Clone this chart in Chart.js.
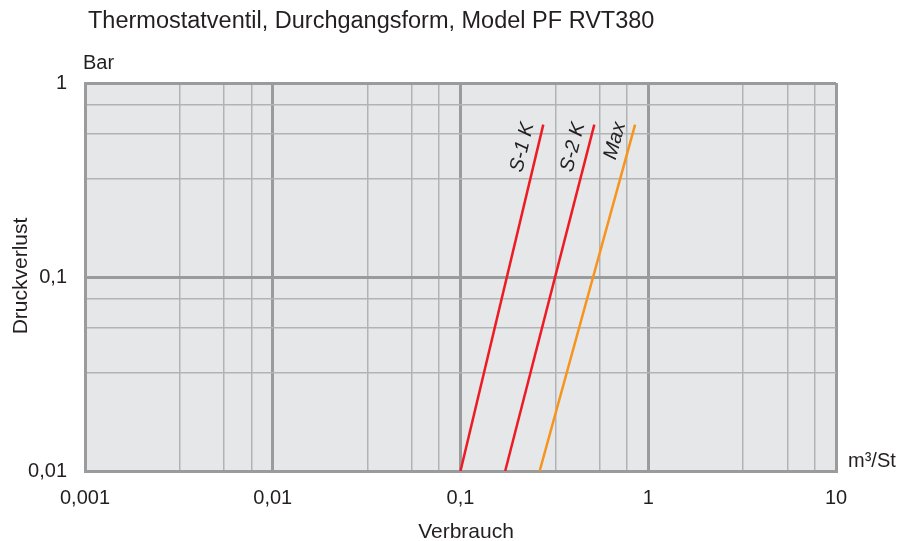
<!DOCTYPE html>
<html>
<head>
<meta charset="utf-8">
<script src="https://cdn.jsdelivr.net/npm/chart.js@4/dist/chart.umd.min.js"></script>
<style>
  body { margin: 0; background: #fff; }
  #wrap { width: 901px; height: 541px; }
</style>
</head>
<body>
<div id="wrap"><canvas id="chart"></canvas></div>
<script>
// Curve data (flow in m³/St, pressure drop in bar)
var seriesNames = ['S-1 K', 'S-2 K', 'Max'];
var seriesColors = ['#ed1c24', '#ed1c24', '#f7941d'];
var pressure = [0.01, 0.61];
var flowS1 = [0.1, 0.276];
var flowS2 = [0.173, 0.516];
var flowMax = [0.264, 0.851];

// Axis ticks
var xMajor = [0.001, 0.01, 0.1, 1, 10];
var xTickLabels = ['0,001', '0,01', '0,1', '1', '10'];
var yMajor = [0.01, 0.1, 1];
var yTickLabels = ['0,01', '0,1', '1'];
var minorSteps = [3.2, 5.5, 7.7];   // minor grid lines inside each decade

var titleText = 'Thermostatventil, Durchgangsform, Model PF RVT380';
var xTitle = 'Verbrauch';
var yTitle = 'Druckverlust';
var xUnit = 'm³/St';
var yUnit = 'Bar';

var FONT = '"Liberation Sans", Arial, sans-serif';

function buildTicks(majors) {
  var vals = [];
  majors.forEach(function (m, i) {
    vals.push(m);
    if (i < majors.length - 1) {
      minorSteps.forEach(function (s) { vals.push(m * s); });
    }
  });
  return vals.map(function (v) { return { value: v }; });
}

function isMajor(v, majors) {
  return majors.some(function (m) { return Math.abs(m - v) / m < 1e-6; });
}

function makePoints(flows) {
  return flows.map(function (f, i) { return { x: f, y: pressure[i] }; });
}

var allFlows = [flowS1, flowS2, flowMax];

// Fill plot background and draw free text
var decorPlugin = {
  id: 'decor',
  beforeDraw: function (chart) {
    var a = chart.chartArea, ctx = chart.ctx;
    ctx.save();
    ctx.fillStyle = '#e6e7e8';
    ctx.fillRect(a.left, a.top, a.right - a.left, a.bottom - a.top);
    ctx.restore();
  },
  afterDraw: function (chart) {
    var ctx = chart.ctx;
    ctx.save();
    ctx.fillStyle = '#231f20';
    ctx.textBaseline = 'alphabetic';

    ctx.font = '23.5px ' + FONT;
    ctx.textAlign = 'left';
    ctx.fillText(titleText, 88, 28);

    ctx.font = '20px ' + FONT;
    ctx.fillText(yUnit, 83, 69);
    ctx.fillText(xUnit, 848, 467);

    ctx.font = '21px ' + FONT;
    ctx.textAlign = 'center';
    ctx.fillText(xTitle, 466, 538);

    ctx.save();
    ctx.translate(26.5, 276);
    ctx.rotate(-Math.PI / 2);
    ctx.fillText(yTitle, 0, 0);
    ctx.restore();

    // curve labels along the top of each line
    var xs = chart.scales.x, ys = chart.scales.y;
    ctx.font = 'italic 20px ' + FONT;
    ctx.textAlign = 'right';
    ctx.textBaseline = 'bottom';
    seriesNames.forEach(function (name, i) {
      var f = allFlows[i];
      var x0 = xs.getPixelForValue(f[0]), y0 = ys.getPixelForValue(pressure[0]);
      var x1 = xs.getPixelForValue(f[1]), y1 = ys.getPixelForValue(pressure[1]);
      var ang = Math.atan2(y1 - y0, x1 - x0);
      ctx.save();
      ctx.translate(x1, y1);
      ctx.rotate(ang);
      ctx.fillText(name, -2, -5);
      ctx.restore();
    });
    ctx.restore();
  }
};

var ctx = document.getElementById('chart').getContext('2d');

var chart = new Chart(ctx, {
  type: 'scatter',
  data: {
    datasets: seriesNames.map(function (name, i) {
      return {
        label: name,
        data: makePoints(allFlows[i]),
        showLine: true,
        borderColor: seriesColors[i],
        borderWidth: 2.5,
        pointRadius: 0,
        pointHoverRadius: 0
      };
    })
  },
  options: {
    responsive: true,
    maintainAspectRatio: false,
    animation: false,
    layout: { padding: { top: 83, right: 65, left: 0, bottom: 0 } },
    plugins: {
      legend: { display: false },
      tooltip: { enabled: false }
    },
    scales: {
      x: {
        type: 'logarithmic',
        min: 0.001,
        max: 10,
        afterFit: function (scale) { scale.height = 70; },
        afterBuildTicks: function (scale) { scale.ticks = buildTicks(xMajor); },
        grid: {
          drawTicks: false,
          color: function (c) { return isMajor(c.tick.value, xMajor) ? '#9a9b9d' : '#b1b3b5'; },
          lineWidth: function (c) { return isMajor(c.tick.value, xMajor) ? 3 : 1.5; }
        },
        border: { color: '#9a9b9d', width: 3 },
        ticks: {
          autoSkip: false,
          maxRotation: 0,
          padding: 15,
          color: '#231f20',
          font: { family: FONT, size: 20 },
          callback: function (v) {
            var i = xMajor.findIndex(function (m) { return Math.abs(m - v) / m < 1e-6; });
            return i >= 0 ? xTickLabels[i] : '';
          }
        }
      },
      y: {
        type: 'logarithmic',
        min: 0.01,
        max: 1,
        afterFit: function (scale) { scale.width = 85; },
        afterBuildTicks: function (scale) { scale.ticks = buildTicks(yMajor); },
        grid: {
          drawTicks: false,
          color: function (c) { return isMajor(c.tick.value, yMajor) ? '#9a9b9d' : '#b1b3b5'; },
          lineWidth: function (c) { return isMajor(c.tick.value, yMajor) ? 3 : 1.5; }
        },
        border: { color: '#9a9b9d', width: 3 },
        ticks: {
          autoSkip: false,
          padding: 18,
          color: '#231f20',
          font: { family: FONT, size: 20 },
          callback: function (v) {
            var i = yMajor.findIndex(function (m) { return Math.abs(m - v) / m < 1e-6; });
            return i >= 0 ? yTickLabels[i] : '';
          }
        }
      }
    }
  },
  plugins: [decorPlugin]
});
</script>
</body>
</html>
